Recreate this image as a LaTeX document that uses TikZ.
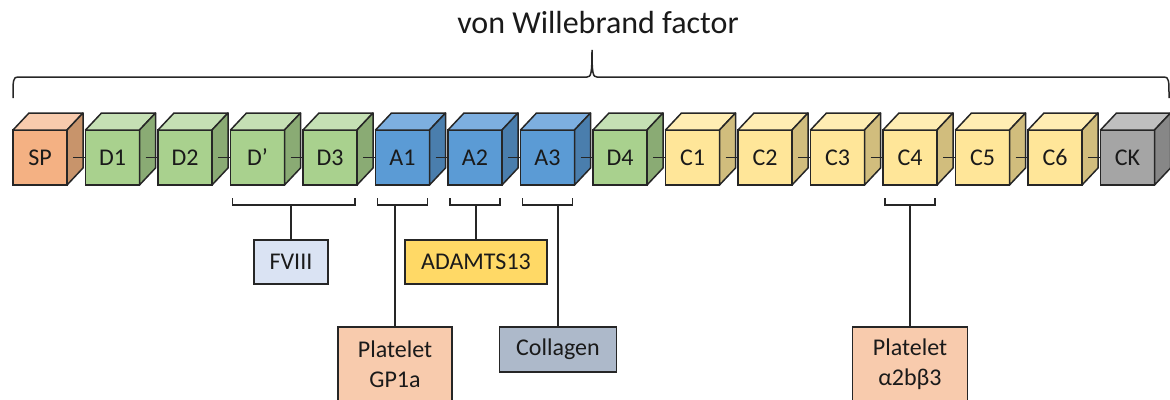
\documentclass[tikz,border=0pt]{standalone}
\usepackage{fontspec}
\setmainfont{Carlito}
\usepackage{tikz}
\usetikzlibrary{positioning}

\definecolor{txt}{HTML}{1A1A1A}
\definecolor{edge}{HTML}{262626}
\definecolor{spfront}{HTML}{F4B183}
\definecolor{sptop}{HTML}{F8CBAD}
\definecolor{spside}{HTML}{C8946B}
\definecolor{dfront}{HTML}{A9D18E}
\definecolor{dtop}{HTML}{C5E0B4}
\definecolor{dside}{HTML}{8AAB74}
\definecolor{afront}{HTML}{5B9BD5}
\definecolor{atop}{HTML}{7DAFE0}
\definecolor{aside}{HTML}{4A7EAD}
\definecolor{cfront}{HTML}{FFE699}
\definecolor{ctop}{HTML}{FFEDB3}
\definecolor{cside}{HTML}{D1BD7D}
\definecolor{ckfront}{HTML}{A5A5A5}
\definecolor{cktop}{HTML}{BFBFBF}
\definecolor{ckside}{HTML}{878787}
\definecolor{fviiicol}{HTML}{DAE3F3}
\definecolor{adamtscol}{HTML}{FFD966}
\definecolor{plateletcol}{HTML}{F8CBAD}
\definecolor{collagencol}{HTML}{ADB9CA}

\newcommand{\cubefaces}[3]{%
  \filldraw[cubeline, fill=#2] (#1.north west) -- ++(16,-17) -- ([shift={(16,-17)}]#1.north east) -- (#1.north east) -- cycle;
  \filldraw[cubeline, fill=#3] (#1.north east) -- ++(16,-17) -- ([shift={(16,-17)}]#1.south east) -- (#1.south east) -- cycle;}
\newcommand{\sitebracket}[3]{%
  \draw[thinline] ([shift={(2,13)}]#1.south west) -- ([shift={(2,20)}]#1.south west)
    -- coordinate[pos=.5] (#3) ([shift={(-2,20)}]#2.south east) -- ([shift={(-2,13)}]#2.south east);}

\begin{document}
\begin{tikzpicture}[x=1pt, y=-1pt,
    cubeline/.style={draw=edge, line width=1.5pt, line join=round},
    thinline/.style={draw=edge, line width=1.5pt},
    cube/.style={draw=edge, line width=1.5pt, minimum width=54pt, minimum height=55pt,
      inner sep=0pt, outer sep=0pt, text=txt, font=\fontsize{24}{28}\selectfont},
    partner/.style={draw=edge, line width=1.5pt, inner sep=0pt, outer sep=0pt, align=center,
      text=txt, font=\fontsize{24}{30}\selectfont},
    node distance=18.5pt]
  \useasboundingbox (0,0) rectangle (1170,399);
  \clip (0,0) rectangle (1170,399);

  \node[text=txt, font=\fontsize{32}{36}\selectfont] (vwf) at (598,23) {von Willebrand factor};
  \draw[thinline] (13,98) .. controls (13,80) and (13,77) .. (18,77) -- (587,77)
    .. controls (591,77) and (592,74) .. (592,50) .. controls (592,74) and (593,77) .. (597,77)
    -- (1164,77) .. controls (1169,77) and (1169,80) .. (1169,98);

  \node[cube, fill=spfront] (sp) at (40,157.5) {SP};
  \node[cube, fill=dfront, right=of sp] (d1) {D1};
  \node[cube, fill=dfront, right=of d1] (d2) {D2};
  \node[cube, fill=dfront, right=of d2] (dp) {D’};
  \node[cube, fill=dfront, right=of dp] (d3) {D3};
  \node[cube, fill=afront, right=of d3] (a1) {A1};
  \node[cube, fill=afront, right=of a1] (a2) {A2};
  \node[cube, fill=afront, right=of a2] (a3) {A3};
  \node[cube, fill=dfront, right=of a3] (d4) {D4};
  \node[cube, fill=cfront, right=of d4] (c1) {C1};
  \node[cube, fill=cfront, right=of c1] (c2) {C2};
  \node[cube, fill=cfront, right=of c2] (c3) {C3};
  \node[cube, fill=cfront, right=of c3] (c4) {C4};
  \node[cube, fill=cfront, right=of c4] (c5) {C5};
  \node[cube, fill=cfront, right=of c5] (c6) {C6};
  \node[cube, fill=ckfront, right=of c6] (ck) {CK};

  \foreach \n/\t/\s in {sp/sptop/spside, d1/dtop/dside, d2/dtop/dside, dp/dtop/dside,
      d3/dtop/dside, a1/atop/aside, a2/atop/aside, a3/atop/aside, d4/dtop/dside,
      c1/ctop/cside, c2/ctop/cside, c3/ctop/cside, c4/ctop/cside, c5/ctop/cside,
      c6/ctop/cside, ck/cktop/ckside}
    \cubefaces{\n}{\t}{\s};
  \foreach \a/\b in {sp/d1, d1/d2, d2/dp, dp/d3, d3/a1, a1/a2, a2/a3, a3/d4,
      d4/c1, c1/c2, c2/c3, c3/c4, c4/c5, c5/c6, c6/ck}
    \draw[thinline] ([xshift=6pt]\a.east) -- (\b.west);

  \sitebracket{dp}{d3}{fbr}
  \sitebracket{a1}{a1}{gbr}
  \sitebracket{a2}{a2}{abr}
  \sitebracket{a3}{a3}{kbr}
  \sitebracket{c4}{c4}{ibr}

  \node[partner, fill=fviiicol, minimum width=74pt, minimum height=44pt, anchor=north] (fviii) at (291,240) {FVIII};
  \node[partner, fill=adamtscol, minimum width=142pt, minimum height=44pt, anchor=north] (adamts) at (476,240) {ADAMTS13};
  \node[partner, fill=plateletcol, minimum width=114pt, minimum height=74pt, anchor=north] (gp) at (395,327) {Platelet\\GP1a};
  \node[partner, fill=collagencol, minimum width=117pt, minimum height=45pt, anchor=north] (coll) at (558,327) {Collagen};
  \node[partner, fill=plateletcol, minimum width=115pt, minimum height=74pt, anchor=north] (itg) at (910,327) {Platelet\\α2bβ3};

  \draw[thinline] (fviii.north) -- (fviii.north |- fbr);
  \draw[thinline] (gp.north) -- (gp.north |- gbr);
  \draw[thinline] (adamts.north) -- (adamts.north |- abr);
  \draw[thinline] (coll.north) -- (coll.north |- kbr);
  \draw[thinline] (itg.north) -- (itg.north |- ibr);
\end{tikzpicture}
\end{document}
